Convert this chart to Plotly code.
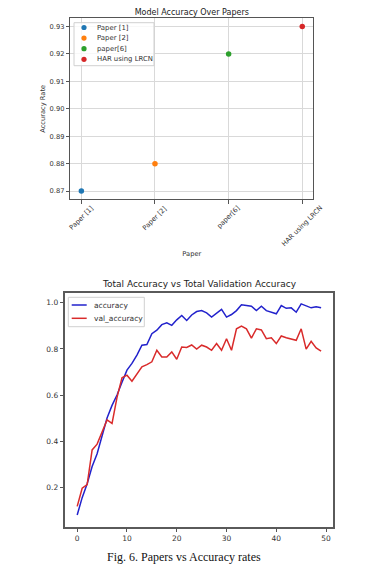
import plotly.graph_objects as go

# ---------------- data ----------------
papers = ["Paper [1]", "Paper [2]", "paper[6]", "HAR using LRCN"]
paper_accuracy = [0.87, 0.88, 0.92, 0.93]
paper_colors = ["#1f77b4", "#ff7f0e", "#2ca02c", "#d62728"]
paper_yticks = [0.87, 0.88, 0.89, 0.90, 0.91, 0.92, 0.93]

epochs = list(range(50))
accuracy = [0.080, 0.155, 0.215, 0.290, 0.345, 0.425, 0.500, 0.555, 0.600, 0.655,
            0.708, 0.737, 0.773, 0.816, 0.819, 0.866, 0.881, 0.905, 0.913, 0.902,
            0.926, 0.945, 0.923, 0.947, 0.962, 0.966, 0.956, 0.938, 0.956, 0.971,
            0.938, 0.949, 0.966, 0.991, 0.988, 0.985, 0.966, 0.985, 0.966, 0.959,
            0.952, 0.988, 0.976, 0.978, 0.959, 0.995, 0.985, 0.978, 0.983, 0.978]
val_accuracy = [0.117, 0.196, 0.212, 0.362, 0.387, 0.442, 0.492, 0.477, 0.590, 0.675,
                0.686, 0.660, 0.693, 0.722, 0.732, 0.744, 0.794, 0.765, 0.765, 0.787,
                0.755, 0.808, 0.806, 0.817, 0.799, 0.816, 0.808, 0.794, 0.823, 0.794,
                0.844, 0.794, 0.887, 0.899, 0.887, 0.847, 0.887, 0.882, 0.844, 0.848,
                0.823, 0.856, 0.848, 0.841, 0.837, 0.887, 0.799, 0.833, 0.804, 0.790]
epoch_ticks = [0, 10, 20, 30, 40, 50]
acc_ticks = [0.2, 0.4, 0.6, 0.8, 1.0]
series_names = ["accuracy", "val_accuracy"]
series_colors = ["#2222cc", "#d92b2b"]

W, H = 369, 567
FONT = "DejaVu Sans"


def px(x):
    return x / W


def py(y):
    return 1 - y / H


fig = go.Figure()

# ---------------- top chart ----------------
for name, acc, col in zip(papers, paper_accuracy, paper_colors):
    fig.add_trace(go.Scatter(x=[name], y=[acc], mode="markers", name=name,
                             marker=dict(color=col, size=5.5),
                             xaxis="x", yaxis="y", showlegend=False))

# ---------------- bottom chart ----------------
for name, ys, col in zip(series_names, [accuracy, val_accuracy], series_colors):
    fig.add_trace(go.Scatter(x=epochs, y=ys, mode="lines", name=name,
                             line=dict(color=col, width=1.5),
                             xaxis="x2", yaxis="y2", showlegend=False))

annotations = []
shapes = []

# rotated category labels (centred under ticks, like matplotlib rotation=45)
for name in papers:
    annotations.append(dict(x=name, xref="x", y=py(202.5), yref="paper",
                            text=name, textangle=-45, showarrow=False,
                            xanchor="center", yanchor="top", borderpad=0,
                            font=dict(family=FONT, size=6.7, color="#333")))

# top legend (manual, compact like matplotlib)
shapes.append(dict(type="rect", xref="paper", yref="paper",
                   x0=px(74), x1=px(154), y0=py(65.7), y1=py(22.7),
                   line=dict(color="#d0d0d0", width=1), fillcolor="rgba(255,255,255,0.8)"))
leg_y = [27.5, 38.1, 48.7, 59.3]
for name, col, yy in zip(papers, paper_colors, leg_y):
    shapes.append(dict(type="circle", xref="paper", yref="paper",
                       x0=px(84 - 2.6), x1=px(84 + 2.6), y0=py(yy + 2.6), y1=py(yy - 2.6),
                       fillcolor=col, line=dict(width=0)))
    annotations.append(dict(x=px(96), y=py(yy), xref="paper", yref="paper", text=name,
                            showarrow=False, xanchor="left", yanchor="middle", borderpad=0,
                            font=dict(family=FONT, size=6.9, color="#333")))

# bottom title
annotations.append(dict(x=px(199.2), y=py(284), xref="paper", yref="paper",
                        text="Total Accuracy vs Total Validation Accuracy", showarrow=False,
                        xanchor="center", yanchor="middle",
                        font=dict(family=FONT, size=9, color="#222")))

# bottom legend (manual)
shapes.append(dict(type="rect", xref="paper", yref="paper",
                   x0=px(68.3), x1=px(144.3), y0=py(326.7), y1=py(297.3),
                   line=dict(color="#d0d0d0", width=1), fillcolor="rgba(255,255,255,0.8)"))
for name, col, yy in zip(series_names, series_colors, [305, 318.3]):
    shapes.append(dict(type="line", xref="paper", yref="paper",
                       x0=px(71.7), x1=px(86.7), y0=py(yy), y1=py(yy),
                       line=dict(color=col, width=1.5)))
    annotations.append(dict(x=px(92.7), y=py(yy), xref="paper", yref="paper", text=name,
                            showarrow=False, xanchor="left", yanchor="middle", borderpad=0,
                            font=dict(family=FONT, size=7.5, color="#333")))

# caption
annotations.append(dict(x=px(183.5), y=py(556.7), xref="paper", yref="paper",
                        text="Fig. 6. Papers vs Accuracy rates", showarrow=False,
                        xanchor="center", yanchor="middle",
                        font=dict(family="Liberation Serif", size=12, color="#111")))

tickfont_top = dict(family=FONT, size=6.7, color="#333")
tickfont_bot = dict(family=FONT, size=7.5, color="#333")

fig.update_layout(
    width=W, height=H, autosize=False,
    margin=dict(l=0, r=0, t=0, b=0),
    paper_bgcolor="white", plot_bgcolor="white",
    showlegend=False,
    title=dict(text="Model Accuracy Over Papers", x=px(191.8), y=py(12),
               xanchor="center", yanchor="middle", xref="paper", yref="paper",
               font=dict(family=FONT, size=8, color="#222")),
    xaxis=dict(domain=[px(70.3), px(313.3)], anchor="y", type="category",
               categoryorder="array", categoryarray=papers, range=[-0.15, 3.15],
               showgrid=True, gridcolor="#d9d9d9", gridwidth=1,
               showline=True, mirror=True, linecolor="#555", linewidth=1,
               ticks="outside", ticklen=3.5, tickcolor="#555", showticklabels=False,
               zeroline=False,
               title=dict(text="Paper", standoff=48, font=dict(family=FONT, size=6.7, color="#333"))),
    yaxis=dict(domain=[py(199.3), py(18.3)], anchor="x", range=[0.867, 0.933],
               tickvals=paper_yticks, tickformat=".2f", tickfont=tickfont_top,
               showgrid=True, gridcolor="#d9d9d9", gridwidth=1,
               showline=True, mirror=True, linecolor="#555", linewidth=1,
               ticks="outside", ticklen=3.5, tickcolor="#555", zeroline=False,
               title=dict(text="Accuracy Rate", standoff=3, font=dict(family=FONT, size=6.7, color="#333"))),
    xaxis2=dict(domain=[px(65), px(333.3)], anchor="y2", range=[-2.45, 51.45],
                tickvals=epoch_ticks, tickfont=tickfont_bot, showgrid=False, zeroline=False,
                showline=True, mirror=True, linecolor="#5a5a5a", linewidth=1.5,
                ticks="outside", ticklen=3.5, tickcolor="#555"),
    yaxis2=dict(domain=[py(526.7), py(293.3)], anchor="x2", range=[0.029, 1.041],
                tickvals=acc_ticks, tickformat=".1f", tickfont=tickfont_bot,
                showgrid=False, zeroline=False,
                showline=True, mirror=True, linecolor="#5a5a5a", linewidth=1.5,
                ticks="outside", ticklen=3.5, tickcolor="#555"),
    annotations=annotations,
    shapes=shapes,
)

fig.write_html("out.html", config={"displayModeBar": False},
               post_script="document.body.style.margin='0';document.body.style.overflow='hidden';")
